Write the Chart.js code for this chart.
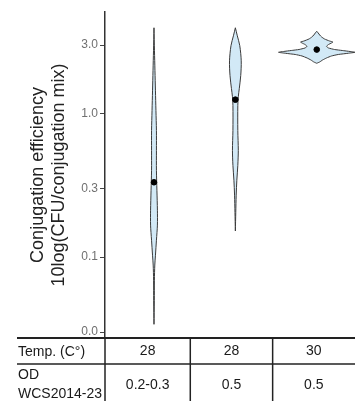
<!DOCTYPE html>
<html lang="en">
<head>
<meta charset="UTF-8" />
<title>Conjugation efficiency</title>
<script src="https://cdn.jsdelivr.net/npm/chart.js"></script>
<style>
  body { margin: 0; background: #fff; }
  #wrap { width: 360px; height: 401px; position: relative; }
</style>
</head>
<body>
<div id="wrap"><canvas id="violins"></canvas></div>
<script>
  // group positions on the x axis and their medians
  const groups = [1, 2, 3];
  const medians = [0.332, 1.25, 2.79];
  const yTicks = [0.03, 0.1, 0.3, 1, 3];

  // violin outlines: levels (top to bottom) and half widths in group units
  const v1Levels = [3.96, 2.74, 1.99, 1.44, 1.05, 0.762, 0.554, 0.402, 0.292, 0.212, 0.167, 0.131, 0.103, 0.088, 0.069, 0.050, 0.034];
  const v1Widths = [0, 0.006, 0.012, 0.018, 0.024, 0.03, 0.03, 0.03, 0.036, 0.042, 0.042, 0.03, 0.018, 0.01, 0.005, 0.004, 0];
  const v2Levels = [3.96, 3.48, 2.97, 2.33, 1.84, 1.49, 1.31, 1.14, 0.762, 0.554, 0.435, 0.343, 0.270, 0.205, 0.152];
  const v2Widths = [0, 0.024, 0.054, 0.072, 0.066, 0.048, 0.036, 0.03, 0.03, 0.036, 0.03, 0.018, 0.01, 0.005, 0];
  const v3Levels = [3.742, 3.641, 3.526, 3.415, 3.307, 3.202, 3.151, 3.101, 3.028, 2.941, 2.862, 2.795, 2.750, 2.706, 2.672, 2.630, 2.580, 2.518, 2.439, 2.362, 2.287, 2.240];
  const v3Widths = [0, 0.018, 0.036, 0.060, 0.096, 0.157, 0.199, 0.181, 0.145, 0.120, 0.145, 0.217, 0.313, 0.410, 0.470, 0.386, 0.265, 0.181, 0.120, 0.072, 0.036, 0];

  // table under the plot
  const rowLabels = [['Temp. (C°)'], ['OD', 'WCS2014-23']];
  const tempRow = ['28', '28', '30'];
  const odRow = ['0.2-0.3', '0.5', '0.5'];

  const FONT = "'Liberation Sans', Arial, sans-serif";

  function outline(pos, levels, widths) {
    const right = levels.map((y, i) => ({ x: pos + widths[i], y }));
    const left = levels.map((y, i) => ({ x: pos - widths[i], y })).reverse();
    return right.concat(left);
  }

  const violinSets = [[v1Levels, v1Widths], [v2Levels, v2Widths], [v3Levels, v3Widths]].map((v, i) => ({
    data: outline(groups[i], v[0], v[1]),
    borderColor: '#3a3a3a',
    borderWidth: 1,
    backgroundColor: '#d2e9f6',
    fill: 'shape',
    pointRadius: 0,
    tension: i === 2 ? 0.15 : 0.3,
    order: 1
  }));

  const medianSet = {
    data: groups.map((g, i) => ({ x: g, y: medians[i] })),
    showLine: false,
    pointRadius: 2.8,
    pointBackgroundColor: '#000',
    pointBorderColor: '#000',
    order: 0
  };

  // draws the condition table below the x axis
  const tablePlugin = {
    id: 'condTable',
    afterDraw(chart) {
      const { ctx, chartArea: a, scales: { x } } = chart;
      const H = chart.height;
      const edges = [a.left, x.getPixelForValue(1.446), x.getPixelForValue(2.458), a.right];
      const rowMid = a.bottom + 26;
      ctx.save();
      ctx.strokeStyle = '#222';
      ctx.lineWidth = 2;
      ctx.beginPath(); ctx.moveTo(17, a.bottom); ctx.lineTo(a.right, a.bottom); ctx.stroke();
      ctx.lineWidth = 1.5;
      ctx.beginPath(); ctx.moveTo(17, rowMid); ctx.lineTo(a.right, rowMid); ctx.stroke();
      ctx.beginPath(); ctx.moveTo(a.left, a.bottom); ctx.lineTo(a.left, H); ctx.stroke();
      [edges[1], edges[2]].forEach(px => {
        ctx.beginPath(); ctx.moveTo(px, a.bottom); ctx.lineTo(px, H); ctx.stroke();
      });

      ctx.fillStyle = '#1a1a1a';
      ctx.font = '14px ' + FONT;
      ctx.textBaseline = 'middle';
      ctx.textAlign = 'left';
      ctx.fillText(rowLabels[0][0], 18, a.bottom + 14);
      ctx.fillText(rowLabels[1][0], 18, rowMid + 11);
      ctx.fillText(rowLabels[1][1], 18, rowMid + 30);
      ctx.textAlign = 'center';
      for (let i = 0; i < 3; i++) {
        const cx = (edges[i] + edges[i + 1]) / 2;
        ctx.fillText(tempRow[i], cx, a.bottom + 13);
        ctx.fillText(odRow[i], cx, rowMid + 21);
      }
      ctx.restore();
    }
  };

  new Chart(document.getElementById('violins'), {
    type: 'line',
    data: { datasets: [medianSet, ...violinSets] },
    options: {
      responsive: true,
      maintainAspectRatio: false,
      animation: false,
      layout: { padding: { top: 12, bottom: 63, left: 0, right: 0 } },
      plugins: { legend: { display: false }, tooltip: { enabled: false } },
      scales: {
        x: { type: 'linear', min: 0.398, max: 3.47, display: false },
        y: {
          type: 'logarithmic',
          min: 0.0273,
          max: 5.1,
          afterFit: s => { s.width = 105; },
          afterBuildTicks: s => { s.ticks = yTicks.map(v => ({ value: v })); },
          border: { display: true, color: '#333', width: 1.5 },
          grid: { drawOnChartArea: false, drawTicks: true, tickLength: 5, color: '#444' },
          ticks: {
            color: '#707070',
            padding: 2,
            font: { size: 12, family: FONT },
            callback: v => Number(v).toFixed(1)
          },
          title: {
            display: true,
            text: ['Conjugation efficiency', '10log(CFU/conjugation mix)'],
            color: '#222',
            font: { size: 18, family: FONT },
            padding: { top: 27, bottom: 0 }
          }
        }
      }
    },
    plugins: [tablePlugin]
  });
</script>
</body>
</html>
